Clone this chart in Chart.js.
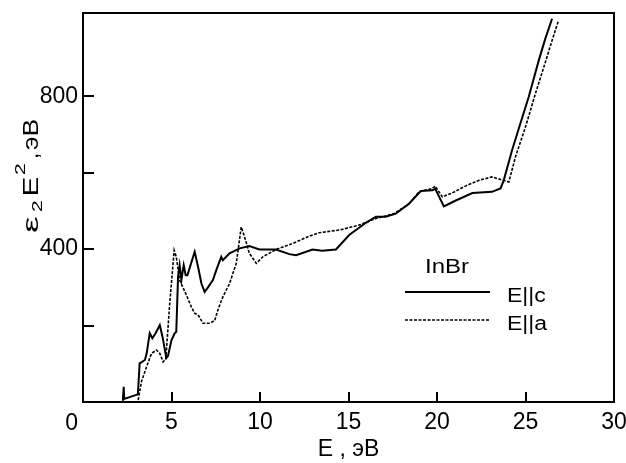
<!DOCTYPE html>
<html>
<head>
<meta charset="utf-8">
<script src="https://cdn.jsdelivr.net/npm/chart.js@4.4.0/dist/chart.umd.min.js"></script>
<style>
  body { margin: 0; background: #fff; }
  #wrap { width: 626px; height: 463px; }
</style>
</head>
<body>
<div id="wrap"><canvas id="graph" width="626" height="463"></canvas></div>
<script>
// E || c (solid)
var energyC = [2.25, 2.3, 2.33, 3.1, 3.2, 3.5, 3.6, 3.77, 3.92, 4.1, 4.34, 4.49, 4.71, 4.8, 5.0, 5.18, 5.27, 5.37, 5.46, 5.56, 5.69, 5.8, 5.9, 6.31, 6.5, 6.69, 6.87, 7.06, 7.34, 7.53, 7.81, 7.9, 8.28, 8.85, 9.4, 9.97, 10.9, 11.66, 12.04, 12.97, 13.5, 14.29, 15.04, 15.98, 16.55, 17.1, 17.67, 18.42, 19.08, 19.74, 19.9, 20.39, 21.0, 22.0, 23.1, 23.59, 23.77, 24.24, 24.71, 25.18, 25.75, 26.12, 26.5];
var valuesC = [3, 40, 8, 20, 101, 110, 128, 180, 167, 180, 201, 171, 115, 120, 162, 180, 184, 328, 358, 320, 358, 332, 332, 393, 354, 310, 288, 300, 319, 345, 380, 371, 389, 402, 408, 399, 399, 387, 384, 399, 396, 399, 437, 469, 485, 485, 493, 519, 552, 554, 558, 512, 526, 547, 550, 559, 580, 659, 729, 798, 894, 951, 1003];

// E || a (dashed)
var energyA = [3.12, 3.3, 3.59, 3.87, 4.15, 4.34, 4.53, 4.68, 4.9, 5.15, 5.27, 5.46, 5.84, 6.12, 6.31, 6.5, 6.78, 7.15, 7.44, 7.62, 7.9, 8.28, 8.66, 8.94, 9.13, 9.4, 9.79, 10.16, 10.9, 11.85, 12.79, 13.35, 14.48, 15.6, 16.55, 17.58, 18.42, 18.99, 19.74, 19.9, 20.3, 20.86, 21.6, 22.37, 23.1, 24.06, 24.43, 25.0, 25.56, 26.12, 26.5, 26.87];
var valuesA = [5, 53, 92, 127, 136, 127, 105, 114, 258, 397, 380, 319, 280, 249, 232, 228, 206, 206, 213, 241, 275, 310, 363, 458, 432, 389, 363, 380, 399, 415, 434, 443, 450, 463, 480, 493, 519, 550, 559, 565, 537, 547, 565, 580, 589, 576, 641, 720, 807, 889, 946, 999];

var xTicks = [0, 5, 10, 15, 20, 25, 30];
var yTickLabels = [400, 800];
var yTickMarks = [200, 400, 600, 800];

var FONT = "Liberation Sans, Arial, sans-serif";

function pts(xs, ys) {
  return xs.map(function (x, i) { return { x: x, y: ys[i] }; });
}

function noPad(s) {
  s.paddingLeft = 0; s.paddingRight = 0; s.paddingTop = 0; s.paddingBottom = 0;
}

// text stretched along its reading direction
function wide(ctx, txt, x, y, sx) {
  ctx.save(); ctx.translate(x, y); ctx.scale(sx, 1); ctx.fillText(txt, 0, 0); ctx.restore();
}

var decor = {
  id: "decor",
  afterDraw: function (chart) {
    var ctx = chart.ctx, a = chart.chartArea;
    var xs = chart.scales.x, ys = chart.scales.y;
    ctx.save();
    ctx.strokeStyle = "#000";
    ctx.lineWidth = 2;
    ctx.strokeRect(a.left, a.top, a.right - a.left, a.bottom - a.top);

    // inward tick marks
    ctx.beginPath();
    xTicks.forEach(function (v) {
      if (v <= xs.min || v >= xs.max) return;
      var px = Math.round(xs.getPixelForValue(v));
      ctx.moveTo(px, a.bottom);
      ctx.lineTo(px, a.bottom - 10);
    });
    yTickMarks.forEach(function (v) {
      var py = Math.round(ys.getPixelForValue(v));
      ctx.moveTo(a.left, py);
      ctx.lineTo(a.left + 11, py);
    });
    ctx.stroke();

    ctx.fillStyle = "#000";
    ctx.font = "23px " + FONT;
    // the zero at the corner
    ctx.textAlign = "right";
    ctx.textBaseline = "alphabetic";
    ctx.fillText("0", a.left - 5, 430);

    // y axis title with sub/superscripts, rotated
    ctx.translate(37.5, 233);
    ctx.rotate(-Math.PI / 2);
    ctx.textAlign = "left";
    ctx.font = "22px " + FONT;
    wide(ctx, "\u03b5", 0, 0, 1.7);
    ctx.font = "15px " + FONT;
    wide(ctx, "2", 21, 4.5, 1.4);
    ctx.font = "22px " + FONT;
    wide(ctx, "E", 36.5, 0, 1.35);
    ctx.font = "15px " + FONT;
    wide(ctx, "2", 58, -12.5, 1.4);
    ctx.font = "22px " + FONT;
    ctx.fillText(",", 74, 0);
    wide(ctx, "\u044dB", 83, 0, 1.2);
    ctx.restore();

    // legend
    ctx.save();
    ctx.fillStyle = "#000";
    ctx.strokeStyle = "#000";
    ctx.font = "20px " + FONT;
    ctx.textBaseline = "alphabetic";
    ctx.textAlign = "left";
    wide(ctx, "InBr", 425, 273, 1.2);
    ctx.lineWidth = 2;
    ctx.beginPath(); ctx.moveTo(405, 292); ctx.lineTo(490, 292); ctx.stroke();
    wide(ctx, "E||c", 507, 302, 1.15);
    ctx.lineWidth = 1.5;
    ctx.setLineDash([3, 1.5]);
    ctx.beginPath(); ctx.moveTo(405, 320); ctx.lineTo(490, 320); ctx.stroke();
    ctx.setLineDash([]);
    wide(ctx, "E||a", 507, 330, 1.15);
    ctx.restore();
  }
};

var chart = new Chart(document.getElementById("graph"), {
  type: "line",
  data: {
    datasets: [
      {
        label: "E||c",
        data: pts(energyC, valuesC),
        borderColor: "#000",
        borderWidth: 2,
        pointRadius: 0,
        tension: 0,
        fill: false
      },
      {
        label: "E||a",
        data: pts(energyA, valuesA),
        borderColor: "#000",
        borderWidth: 1.6,
        borderDash: [3, 1.5],
        pointRadius: 0,
        tension: 0,
        fill: false
      }
    ]
  },
  options: {
    responsive: false,
    animation: false,
    layout: { padding: { top: 13, right: 12, left: 0, bottom: 0 } },
    plugins: { legend: { display: false }, tooltip: { enabled: false } },
    scales: {
      x: {
        type: "linear",
        min: 0,
        max: 30,
        afterFit: function (s) { s.height = 61; noPad(s); },
        afterBuildTicks: function (s) { s.ticks = xTicks.map(function (v) { return { value: v }; }); },
        grid: { display: false, drawTicks: false },
        border: { display: false },
        ticks: {
          color: "#000",
          padding: 7,
          maxRotation: 0,
          font: { family: FONT, size: 23 },
          callback: function (v) { return v === 0 ? "" : String(v); }
        },
        title: {
          display: true,
          text: "E , \u044dB",
          color: "#000",
          font: { family: FONT, size: 23 },
          padding: { top: 2, bottom: 0 }
        }
      },
      y: {
        min: 0,
        max: 1018,
        afterFit: function (s) { s.width = 83; noPad(s); },
        afterBuildTicks: function (s) { s.ticks = yTickLabels.map(function (v) { return { value: v }; }); },
        grid: { display: false, drawTicks: false },
        border: { display: false },
        ticks: {
          color: "#000",
          padding: 5,
          font: { family: FONT, size: 23 }
        }
      }
    }
  },
  plugins: [decor]
});
</script>
</body>
</html>
